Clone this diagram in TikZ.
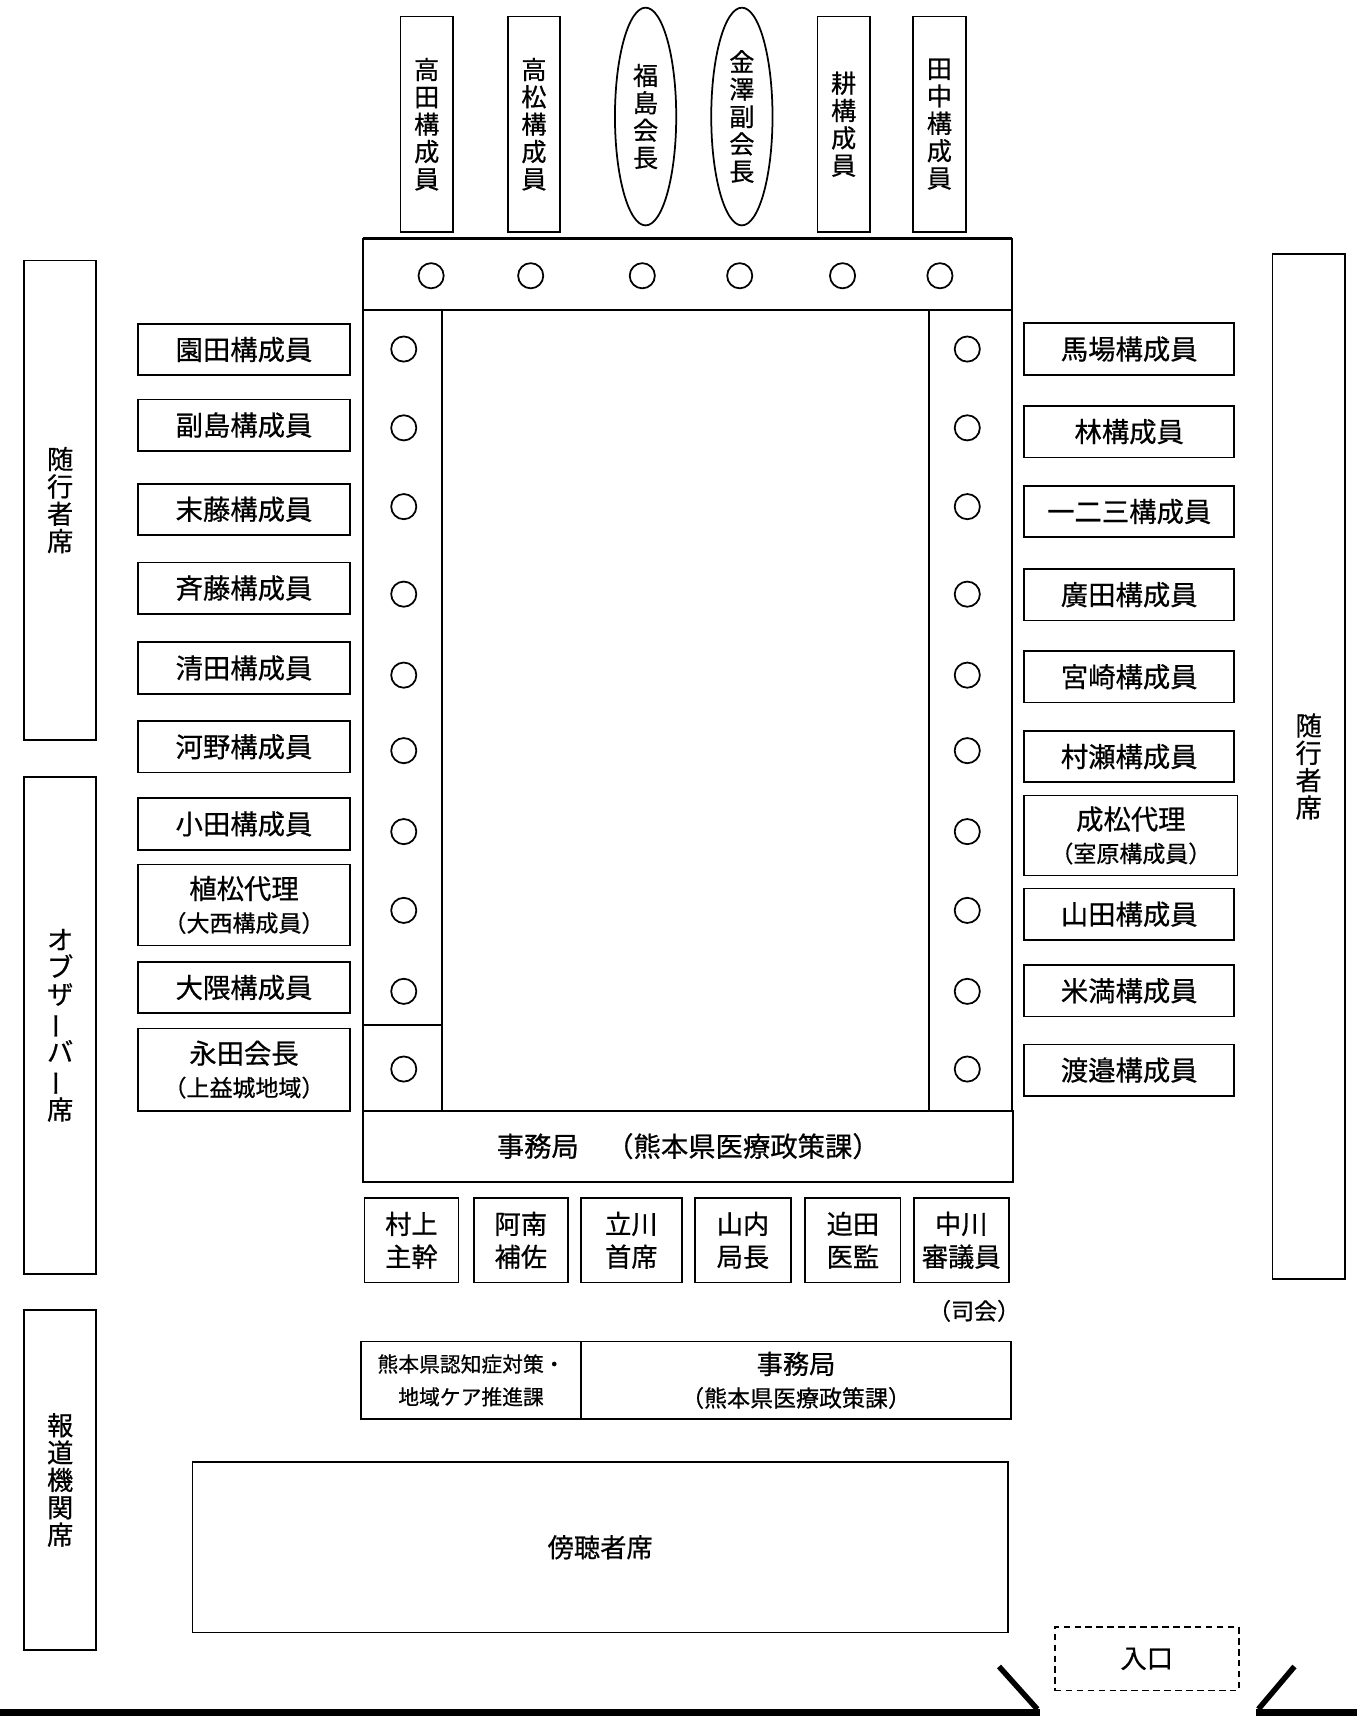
\documentclass[tikz,border=0pt]{standalone}
\usepackage{fontspec}
\setmainfont{Noto Sans CJK JP}[FakeBold=0.6]
\usetikzlibrary{shapes.geometric}
\newcommand{\subline}[1]{{\fontsize{21}{30}\selectfont #1}}
\newcommand{\vbar}{\rotatebox[origin=c]{90}{ー}}

\begin{document}
\begin{tikzpicture}[x=1pt, y=-1pt, line width=1.6pt,
  namebox/.style={draw, rectangle, minimum width=194pt, minimum height=47pt, inner sep=0pt, align=center, font=\fontsize{25}{30}\selectfont},
  vbox/.style={draw, rectangle, minimum width=48pt, minimum height=197pt, inner sep=0pt, align=center, font=\fontsize{23}{25}\selectfont},
  voval/.style={draw, ellipse, minimum width=56pt, minimum height=199pt, inner sep=0pt, align=center, font=\fontsize{23}{25}\selectfont},
  sidebox/.style={draw, rectangle, minimum width=66pt, inner sep=0pt, align=center, font=\fontsize{24}{25}\selectfont},
  staffbox/.style={draw, rectangle, minimum height=77pt, inner sep=0pt, align=center, font=\fontsize{24}{30}\selectfont},
  seat/.style={draw, circle, minimum size=23pt, inner sep=0pt}]
  \useasboundingbox (0,0) rectangle (1240,1571);

  \node[vbox] (takada) at (390,113.5) {高\\田\\構\\成\\員};
  \node[vbox] (takamatsu) at (488,113.5) {高\\松\\構\\成\\員};
  \node[voval] (fukushima) at (590,106.5) {福\\島\\会\\長};
  \node[voval] (kanazawa) at (678,106.5) {金\\澤\\副\\会\\長};
  \node[vbox] (tagayasu) at (771,113.5) {耕\\構\\成\\員};
  \node[vbox] (tanaka) at (858.5,113.5) {田\\中\\構\\成\\員};

  \draw (332,218) rectangle (925,283);
  \draw[line width=2.4pt] (332,218) -- (925,218);
  \draw (332,283) rectangle (404,1015);
  \draw (849,283) rectangle (925,1015);
  \draw (332,937) -- (404,937);
  \foreach \x [count=\i] in {394,485,587,676,770,859}
    \node[seat] (T\i) at (\x,252) {};
  \foreach \y [count=\i] in {319,391,463,543,617,686,760,832,906,977} {
    \node[seat] (L\i) at (369,\y) {};
    \node[seat] (R\i) at (884,\y) {};
  }

  \node[sidebox, minimum height=438pt] (escortL) at (55,457) {随\\行\\者\\席};
  \node[sidebox, minimum height=454pt] (observer) at (55,937) {オ\\ブ\\ザ\\\vbar\\バ\\\vbar\\席};
  \node[sidebox, minimum height=311pt] (press) at (55,1352.5) {報\\道\\機\\関\\席};
  \node[sidebox, minimum height=937pt] (escortR) at (1196,700.5) {随\\行\\者\\席};

  \node[namebox] (sonoda) at (223,319.5) {園田構成員};
  \node[namebox] (soejima) at (223,388.5) {副島構成員};
  \node[namebox] (suetou) at (223,465.5) {末藤構成員};
  \node[namebox] (saitou) at (223,537.5) {斉藤構成員};
  \node[namebox] (kiyota) at (223,610.5) {清田構成員};
  \node[namebox] (kouno) at (223,682.5) {河野構成員};
  \node[namebox] (oda) at (223,753) {小田構成員};
  \node[namebox, minimum height=74pt] (uematsu) at (223,827) {植松代理\\\subline{（大西構成員）}};
  \node[namebox] (ookuma) at (223,902.5) {大隈構成員};
  \node[namebox, minimum height=75pt] (nagata) at (223,977.5) {永田会長\\\subline{（上益城地域）}};

  \node[namebox, minimum width=192pt] (baba) at (1032,319) {馬場構成員};
  \node[namebox, minimum width=192pt] (hayashi) at (1032,394.5) {林構成員};
  \node[namebox, minimum width=192pt] (hifumi) at (1032,467.5) {一二三構成員};
  \node[namebox, minimum width=192pt] (hirota) at (1032,543.5) {廣田構成員};
  \node[namebox, minimum width=192pt] (miyazaki) at (1032,618.5) {宮崎構成員};
  \node[namebox, minimum width=192pt] (murase) at (1032,691.5) {村瀬構成員};
  \node[namebox, minimum width=195pt, minimum height=73pt] (narimatsu) at (1033.5,763.5) {成松代理\\\subline{（室原構成員）}};
  \node[namebox, minimum width=192pt] (yamada) at (1032,835.5) {山田構成員};
  \node[namebox, minimum width=192pt] (yonemitsu) at (1032,905.5) {米満構成員};
  \node[namebox, minimum width=192pt] (watanabe) at (1032,978) {渡邉構成員};

  \node[draw, rectangle, minimum width=594pt, minimum height=65pt, inner sep=0pt, font=\fontsize{25}{30}\selectfont] (office) at (629,1047.5) {事務局　（熊本県医療政策課）};

  \node[staffbox, minimum width=86pt] (murakami) at (376,1133.5) {村上\\主幹};
  \node[staffbox, minimum width=86pt] (anan) at (476,1133.5) {阿南\\補佐};
  \node[staffbox, minimum width=92pt] (tachikawa) at (577,1133.5) {立川\\首席};
  \node[staffbox, minimum width=88pt] (yamauchi) at (679,1133.5) {山内\\局長};
  \node[staffbox, minimum width=87pt] (sakoda) at (779.5,1133.5) {迫田\\医監};
  \node[staffbox, minimum width=87pt] (nakagawa) at (878.5,1133.5) {中川\\審議員};
  \node[anchor=east, inner sep=0pt, font=\fontsize{21}{24}\selectfont] (mc) at (933,1198) {（司会）};

  \node[draw, rectangle, minimum width=201pt, minimum height=71pt, inner sep=0pt, align=center, font=\fontsize{19}{30}\selectfont] (ninchi) at (430.5,1261.5) {熊本県認知症対策・\\地域ケア推進課};
  \node[draw, rectangle, minimum width=393pt, minimum height=71pt, inner sep=0pt, align=center, font=\fontsize{24}{30}\selectfont] (office2) at (727.5,1261.5) {事務局\\\subline{（熊本県医療政策課）}};

  \node[draw, rectangle, minimum width=745pt, minimum height=156pt, font=\fontsize{24}{30}\selectfont] (gallery) at (548.5,1414) {傍聴者席};
  \node[draw, rectangle, dash pattern=on 6pt off 4pt, minimum width=168pt, minimum height=58pt, font=\fontsize{24}{30}\selectfont] (entrance) at (1048,1516) {入口};

  \coordinate (wallL) at (0,1565);
  \coordinate (doorL) at (950,1565);
  \coordinate (doorR) at (1148,1565);
  \coordinate (wallR) at (1240,1565);
  \draw[line width=6pt] (wallL) -- (doorL);
  \draw[line width=6pt] (doorR) -- (wallR);
  \draw[line width=5pt] (913,1523) -- (948,1562);
  \draw[line width=5pt] (1183,1523) -- (1150,1562);
\end{tikzpicture}
\end{document}
